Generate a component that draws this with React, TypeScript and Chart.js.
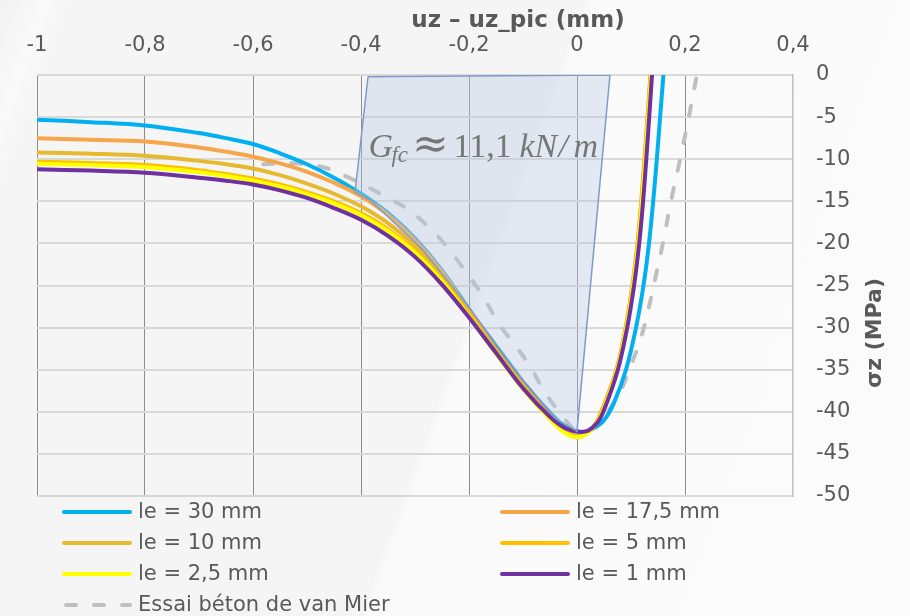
import React, { useEffect, useRef } from 'react';
import { Chart, registerables } from 'chart.js';

Chart.register(...registerables);

// ---------- data ----------
const seriesLabels = [
  'le = 30 mm',
  'le = 17,5 mm',
  'le = 10 mm',
  'le = 5 mm',
  'le = 2,5 mm',
  'le = 1 mm',
  'Essai béton de van Mier',
];

// shared abscissae of the softening (left) part
const leftX = [-1, -0.9, -0.8, -0.7, -0.65, -0.6, -0.55, -0.5, -0.45, -0.4, -0.35, -0.3, -0.25, -0.2, -0.15, -0.1, -0.05, -0.02];

const le30LeftY = [-5.3, -5.6, -6.0, -6.9, -7.5, -8.2, -9.3, -10.6, -12.2, -14.1, -16.4, -19.4, -23.2, -27.8, -32.3, -36.5, -40.1, -41.8];
const le30RightX = [0.01, 0.03, 0.05, 0.068, 0.0907, 0.1093, 0.1231, 0.1333, 0.1411, 0.1478, 0.1539, 0.16];
const le30RightY = [-42.4, -42.0, -41.0, -39, -35, -30, -25, -20, -15, -10, -5, 0];

const le175LeftY = [-7.5, -7.7, -7.9, -8.6, -9.1, -9.7, -10.5, -11.5, -12.8, -14.4, -16.6, -19.6, -23.4, -28.0, -32.6, -36.8, -40.5, -42.3];
const le175RightX = [0.005, 0.03, 0.045, 0.073, 0.09, 0.1025, 0.112, 0.119, 0.125, 0.1305, 0.136];
const le175RightY = [-42.9, -41.8, -40, -35, -30, -25, -20, -15, -10, -5, 0];

const le10LeftY = [-9.2, -9.35, -9.6, -10.2, -10.6, -11.1, -11.9, -12.9, -14.1, -15.6, -17.6, -20.3, -23.9, -28.3, -32.8, -37.0, -40.7, -42.4];
const le10RightX = [0.005, 0.03, 0.045, 0.0735, 0.0905, 0.103, 0.1125, 0.1195, 0.1255, 0.131, 0.1365];
const le10RightY = [-42.9, -41.8, -40, -35, -30, -25, -20, -15, -10, -5, 0];

const le5LeftY = [-10.3, -10.45, -10.7, -11.3, -11.75, -12.3, -13.0, -13.9, -15.0, -16.4, -18.3, -20.9, -24.3, -28.5, -32.9, -37.1, -40.8, -42.5];
const le5RightX = [0.005, 0.03, 0.046, 0.074, 0.091, 0.1035, 0.113, 0.12, 0.126, 0.1315, 0.137];
const le5RightY = [-43.0, -41.9, -40, -35, -30, -25, -20, -15, -10, -5, 0];

const le25LeftY = [-10.55, -10.7, -10.95, -11.55, -12.0, -12.55, -13.25, -14.15, -15.25, -16.65, -18.55, -21.1, -24.5, -28.7, -33.1, -37.3, -40.9, -42.6];
const le25RightX = [0.005, 0.03, 0.047, 0.0745, 0.0915, 0.104, 0.1135, 0.1205, 0.1265, 0.132, 0.1375];
const le25RightY = [-43.0, -41.9, -40, -35, -30, -25, -20, -15, -10, -5, 0];

const le1LeftY = [-11.2, -11.35, -11.6, -12.2, -12.55, -13.0, -13.7, -14.6, -15.8, -17.2, -19.1, -21.6, -24.9, -28.8, -33.0, -37.2, -40.6, -42.0];
const le1RightX = [0.015, 0.035, 0.0487, 0.0757, 0.093, 0.1057, 0.1152, 0.1224, 0.1283, 0.1337, 0.1389];
const le1RightY = [-42.35, -41.5, -40, -35, -30, -25, -20, -15, -10, -5, 0];

const vanMierX = [-0.581, -0.517, -0.465, -0.417, -0.37, -0.317, -0.272, -0.241, -0.211, -0.175, -0.143, -0.112, -0.087, -0.062, -0.031, 0, 0.02, 0.043, 0.08, 0.098, 0.117, 0.132, 0.144, 0.159, 0.174, 0.191, 0.207, 0.222];
const vanMierY = [-10.6, -10.5, -11.05, -12.35, -13.9, -15.8, -18.2, -20.4, -22.9, -26.2, -29.7, -32.3, -34.6, -37.4, -40.2, -42.35, -42.3, -41.2, -37.6, -34.8, -31.5, -27.9, -24.4, -20, -15, -10, -5, 0];

const gfcX = [-0.387, -0.411, -0.383, -0.288, -0.2, -0.1, -0.04, 0, 0.061, -0.387];
const gfcY = [-0.2, -13.9, -14.85, -20.6, -27.6, -36.2, -40.8, -42.3, 0, -0.2];

const xTickValues = [-1, -0.8, -0.6, -0.4, -0.2, 0, 0.2, 0.4];
const yTickValues = [0, -5, -10, -15, -20, -25, -30, -35, -40, -45, -50];

const xTitle = 'uz – uz_pic (mm)';
const yTitle = 'σz (MPa)';

// ---------- helpers ----------
const pts = (xs: number[], ys: number[]) => xs.map((x, i) => ({ x, y: ys[i] }));
const curve = (leftY: number[], rightX: number[], rightY: number[]) => [...pts(leftX, leftY), ...pts(rightX, rightY)];
const TEXT = '#595959';
const FONT = 'DejaVu Sans';

const fmtX = (v: number) => {
  const r = Math.round(v * 10) / 10;
  return String(r).replace('.', ',');
};

const overlayPlugin = {
  id: 'overlay',
  afterDraw(chart: any) {
    const ctx = chart.ctx;
    ctx.save();
    // x title
    ctx.fillStyle = TEXT;
    ctx.font = `bold 23px "${FONT}"`;
    ctx.textAlign = 'center';
    ctx.textBaseline = 'middle';
    ctx.fillText(xTitle, 518, 21);
    // y title (reads bottom to top)
    ctx.save();
    ctx.translate(875, 333);
    ctx.rotate(-Math.PI / 2);
    ctx.font = `bold 22px "${FONT}"`;
    ctx.fillText(yTitle, 0, 0);
    ctx.restore();

    // annotation G_fc ≈ 11,1 kN/m
    const ax = chart.scales.x;
    const ay = chart.scales.y;
    const gx = ax.getPixelForValue(-0.388);
    const base = ay.getPixelForValue(-9.7);
    ctx.fillStyle = '#777777';
    ctx.textAlign = 'left';
    ctx.textBaseline = 'alphabetic';
    ctx.font = 'italic 34px "Liberation Serif"';
    ctx.fillText('G', gx + 1, base);
    ctx.font = 'italic 23px "Liberation Serif"';
    ctx.fillText('fc', gx + 24, base + 5);
    ctx.font = '44px "DejaVu Serif"';
    ctx.textAlign = 'center';
    ctx.fillText('≈', gx + 63, base + 1);
    ctx.textAlign = 'left';
    ctx.font = '34px "Liberation Serif"';
    ctx.fillText('11,1', gx + 86, base);
    ctx.font = 'italic 34px "Liberation Serif"';
    ctx.fillText('kN', gx + 152, base);
    ctx.fillText('/', gx + 191, base);
    ctx.fillText('m', gx + 206, base);

    // legend
    const items = chart.data.datasets.filter((d: any) => d.inLegend);
    items.forEach((d: any, i: number) => {
      const col = i % 2;
      const row = Math.floor(i / 2);
      const x0 = col ? 500 : 62;
      const y = 512 + row * 31;
      ctx.strokeStyle = d.borderColor;
      ctx.lineWidth = 4;
      ctx.lineCap = 'round';
      ctx.setLineDash(d.borderDash || []);
      ctx.lineDashOffset = d.borderDash ? -2 : 0;
      ctx.beginPath();
      ctx.moveTo(x0 + 2, y);
      ctx.lineTo(x0 + 68, y);
      ctx.stroke();
      ctx.setLineDash([]);
      ctx.fillStyle = TEXT;
      ctx.font = `21px "${FONT}"`;
      ctx.textBaseline = 'middle';
      ctx.fillText(d.label, x0 + 76, y + 1);
    });
    ctx.restore();
  },
};

export default function App() {
  const ref = useRef<HTMLCanvasElement | null>(null);

  useEffect(() => {
    if (!ref.current) return;
    Chart.defaults.font.family = FONT;
    const line = (label: string, data: any[], color: string, order: number, extra: any = {}) => ({
      label,
      data,
      borderColor: color,
      backgroundColor: color,
      borderWidth: 4,
      pointRadius: 0,
      tension: 0.35,
      fill: false,
      order,
      inLegend: true,
      borderCapStyle: 'round',
      borderJoinStyle: 'round',
      ...extra,
    });

    const chart = new Chart(ref.current, {
      type: 'line',
      data: {
        datasets: [
          line(seriesLabels[0], curve(le30LeftY, le30RightX, le30RightY), '#00b0f0', 6),
          line(seriesLabels[1], curve(le175LeftY, le175RightX, le175RightY), '#f5a54a', 5),
          line(seriesLabels[2], curve(le10LeftY, le10RightX, le10RightY), '#e6b92e', 4),
          line(seriesLabels[3], curve(le5LeftY, le5RightX, le5RightY), '#ffc000', 3),
          line(seriesLabels[4], curve(le25LeftY, le25RightX, le25RightY), '#ffff00', 2),
          line(seriesLabels[5], curve(le1LeftY, le1RightX, le1RightY), '#7030a0', 1),
          line(seriesLabels[6], pts(vanMierX, vanMierY), '#bfbfbf', 7, { borderDash: [10, 18] }),
          {
            label: 'Gfc',
            data: pts(gfcX, gfcY),
            borderColor: '#7f9cc8',
            backgroundColor: 'rgba(180,200,230,0.35)',
            borderWidth: 1.5,
            pointRadius: 0,
            tension: 0,
            fill: 'shape',
            order: 0,
            inLegend: false,
          },
        ] as any,
      },
      options: {
        responsive: false,
        animation: false,
        events: [],
        layout: { padding: { left: 37, right: 0, top: 0, bottom: 120 } },
        plugins: { legend: { display: false }, tooltip: { enabled: false } },
        scales: {
          x: {
            type: 'linear',
            position: 'top',
            min: -1,
            max: 0.4,
            afterBuildTicks: (s: any) => {
              s.ticks = xTickValues.map((v) => ({ value: v }));
            },
            afterFit: (s: any) => {
              s.height = 75;
            },
            ticks: {
              padding: 17,
              color: TEXT,
              font: { size: 21, family: FONT },
              maxRotation: 0,
              autoSkip: false,
              callback: (v: any) => fmtX(Number(v)),
            },
            grid: {
              drawTicks: false,
              lineWidth: 1,
              color: (c: any) => (c.tick && Math.abs(c.tick.value - 0.4) < 1e-6 ? 'rgba(0,0,0,0)' : '#8c8c8c'),
            },
            border: { display: false },
          },
          y: {
            type: 'linear',
            position: 'right',
            min: -50,
            max: 0,
            afterBuildTicks: (s: any) => {
              s.ticks = yTickValues.map((v) => ({ value: v }));
            },
            afterFit: (s: any) => {
              s.width = 117;
            },
            ticks: {
              padding: 23,
              color: TEXT,
              font: { size: 21, family: FONT },
              autoSkip: false,
              callback: (v: any) => String(Math.round(Number(v))),
            },
            grid: { drawTicks: false, lineWidth: 2, color: '#d9d9d9' },
            border: { display: true, color: '#bfbfbf', width: 1.5 },
          },
        },
      } as any,
      plugins: [overlayPlugin],
    });
    return () => chart.destroy();
  }, []);

  return (
    <div
      style={{
        position: 'fixed',
        left: 0,
        top: 0,
        width: 910,
        height: 616,
        background:
          'linear-gradient(110deg, #f2f2f2 0%, #f9f9f9 4%, #f5f5f5 6.5%, #f5f5f5 51.5%, #fafafa 52.2%, #fbfbfb 100%)',
      }}
    >
      <canvas ref={ref} width={910} height={616} style={{ display: 'block' }} />
    </div>
  );
}
